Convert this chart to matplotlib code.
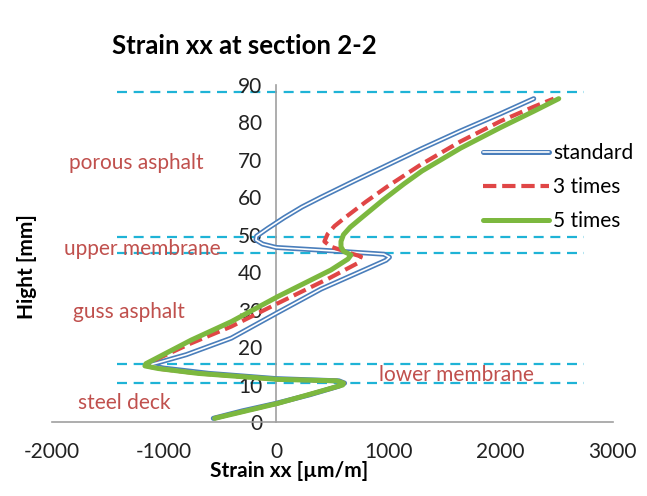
import matplotlib
matplotlib.use('Agg')
import matplotlib.pyplot as plt
import matplotlib.patheffects as pe

plt.rcParams['font.family'] = ['Lato', 'DejaVu Sans']
plt.rcParams['axes.unicode_minus'] = False

# strain xx [um/m] vs. height [mm]
std_x = [-560, -300, 0, 300, 560, 610, 560, 0, -600, -1000, -1100, -1110, -1000, -800,
         -400, 0, 400, 785, 980, 1010, 960, 500, 0, -120, -180, -175, -74, 74, 230, 400,
         700, 1000, 1300, 1644, 2000, 2296]
std_y = [1.0, 3.0, 5.0, 7.3, 9.6, 10.4, 11.0, 11.6, 13.0, 14.4, 15.0, 15.4, 16.3, 18.0,
         22.4, 29.0, 35.5, 40.6, 43.2, 44.0, 44.8, 45.7, 46.6, 47.5, 48.6, 49.6, 51.7, 54.6, 57.4, 60.0,
         64.4, 68.7, 73.0, 77.7, 82.3, 86.3]

x3_x = [-552, 15, 596, 603, 540, 15, -700, -1060, -1160, -1150, -760, -400, 15, 480, 726, 756,
        667, 489, 430, 459, 520, 607, 800, 993, 1289, 1644, 2000, 2300, 2474]
x3_y = [1.0, 5.0, 9.9, 10.4, 11.0, 11.4, 13.0, 14.3, 15.0, 15.6, 21.0, 25.5, 31.7, 38.5, 42.4, 44.2,
        45.0, 46.8, 48.2, 50.2, 52.3, 54.4, 58.8, 62.9, 68.7, 74.9, 80.3, 84.2, 86.3]

x5_x = [-548, 15, 593, 600, 540, 15, -696, -1052, -1170, -1160, -756, -400, 15, 489, 640, 667,
        600, 578, 578, 600, 660, 756, 950, 1141, 1300, 1644, 2000, 2300, 2519]
x5_y = [1.0, 5.0, 9.9, 10.4, 11.0, 11.4, 13.0, 14.3, 15.0, 15.6, 21.9, 26.8, 33.5, 40.6, 43.5, 44.6,
        45.6, 46.8, 48.2, 50.0, 52.0, 54.4, 59.2, 63.6, 67.0, 73.1, 78.6, 83.0, 86.3]

# layer boundaries
bound_y = [88, 49.3, 45.2, 15.5, 10.4]
bound_x0, bound_x1 = -1420, 2740

layer_names = ['porous asphalt', 'upper membrane', 'guss asphalt', 'steel deck', 'lower membrane']
layer_x = [-1850, -1890, -1810, -1770, 920]
layer_y = [69.2, 46.3, 29.4, 5.1, 12.6]

x_ticks = [-2000, -1000, 0, 1000, 2000, 3000]
y_ticks = [0, 10, 20, 30, 40, 50, 60, 70, 80, 90]

fig = plt.figure(figsize=(6.47, 4.96), dpi=100)
ax = fig.add_axes([0.080, 0.149, 0.867, 0.680])

ax.hlines(bound_y, bound_x0, bound_x1, colors='#1fb3d6', linewidth=1.6,
          linestyles=(0, (4.5, 3)), zorder=1)

l1, = ax.plot(std_x, std_y, color='white', lw=1.2, solid_joinstyle='round',
              solid_capstyle='round', label='standard', zorder=3,
              path_effects=[pe.Stroke(linewidth=3.6, foreground='#4a7ebb'), pe.Normal()])
l2, = ax.plot(x3_x, x3_y, color='#e04646', lw=3.0, dashes=(3.2, 1.4),
              label='3 times', zorder=4)
l3, = ax.plot(x5_x, x5_y, color='#7cb83f', lw=3.6, solid_joinstyle='round',
              solid_capstyle='round', label='5 times', zorder=5)

for name, lx, ly in zip(layer_names, layer_x, layer_y):
    ax.text(lx, ly, name, color='#c0504d', fontsize=15, va='center', ha='left', zorder=2)

ax.set_xlim(-2000, 3000)
ax.set_ylim(0, 90)
ax.set_xticks(x_ticks)
ax.set_yticks(y_ticks)
ax.spines['left'].set_position(('data', 0))
ax.spines['bottom'].set_position(('data', 0))
ax.spines['right'].set_visible(False)
ax.spines['top'].set_visible(False)
for s in ['left', 'bottom']:
    ax.spines[s].set_color('#a0a0a0')
    ax.spines[s].set_linewidth(1.2)
ax.tick_params(length=0, labelsize=15, colors='#222222')
ax.tick_params(axis='x', pad=14)
ax.tick_params(axis='y', pad=10)
ax.patch.set_alpha(0)

fig.text(0.378, 0.908, 'Strain xx at section 2-2', fontsize=18.5, fontweight='bold',
         ha='center', va='center')
fig.text(0.447, 0.050, 'Strain xx [\u00b5m/m]', fontsize=15, fontweight='bold',
         ha='center', va='center')
fig.text(0.042, 0.462, 'Hight [mm]', fontsize=15, fontweight='bold',
         ha='center', va='center', rotation=90)

leg = ax.legend(handles=[l1, l2, l3], loc='upper left', bbox_to_anchor=(0.746, 0.712),
                bbox_transform=fig.transFigure, frameon=False, fontsize=15,
                handlelength=3.2, handletextpad=0.2, labelspacing=0.68, borderpad=0,
                borderaxespad=0)

fig.savefig('out.png', dpi=100)
